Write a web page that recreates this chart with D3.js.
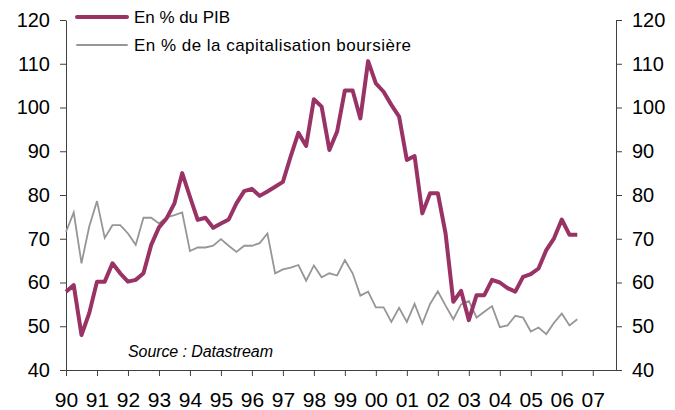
<!DOCTYPE html>
<html>
<head>
<meta charset="utf-8">
<script src="https://cdn.jsdelivr.net/npm/d3@7"></script>
<style>
  body { margin: 0; background: #fff; }
  svg { display: block; font-family: "Liberation Sans", Arial, sans-serif; }
</style>
</head>
<body>
<svg id="chart" width="675" height="410"></svg>
<script>
// quarterly series, starting 1990 Q1
var startYear = 1990;
var yearTicks = d3.range(1990, 2008);
var yTicks = [40, 50, 60, 70, 80, 90, 100, 110, 120];

// en % du PIB
var pib = [
    57.9, 59.4, 48.0, 53.0, 60.2, 60.2, 64.4, 62.1, 60.2, 60.6,
    62.1, 68.6, 72.6, 74.7, 78.1, 85.0, 79.6, 74.3, 74.8, 72.5,
    73.5, 74.4, 78.1, 80.9, 81.4, 79.8, 80.8, 81.9, 83.0, 88.8,
    94.2, 91.2, 101.9, 100.2, 90.3, 94.5, 103.9, 103.9, 97.5, 110.6,
    105.5, 103.6, 100.6, 97.9, 88.0, 88.9, 75.8, 80.4, 80.4, 71.2,
    55.6, 58.1, 51.4, 57.1, 57.1, 60.6, 60.0, 58.7, 57.9, 61.3,
    61.9, 63.2, 67.4, 70.1, 74.4, 70.9, 70.9
];

// en % de la capitalisation boursiere
var bourse = [
    71.6, 76.0, 64.4, 72.8, 78.6, 70.2, 73.1, 73.1, 71.2, 68.6,
    74.8, 74.8, 73.5, 74.9, 75.4, 76.0, 67.2, 68.0, 68.0, 68.4,
    69.9, 68.4, 67.0, 68.4, 68.4, 69.0, 71.2, 62.1, 63.0, 63.4,
    64.0, 60.4, 63.9, 61.2, 62.1, 61.6, 65.1, 62.1, 57.0, 57.9,
    54.3, 54.3, 51.0, 54.2, 51.0, 55.1, 50.6, 55.1, 58.0, 54.7,
    51.6, 55.0, 55.8, 52.0, 53.3, 54.6, 49.8, 50.2, 52.4, 52.0,
    48.8, 49.7, 48.2, 50.8, 52.9, 50.2, 51.6
];

var seriesNames = ["En % du PIB", "En % de la capitalisation boursière"];
var colors = ["#993366", "#969696"];

var svg = d3.select("#chart");
var plotLeft = 66, plotRight = 616, plotTop = 20, plotBottom = 370;

// axis spans 72 quarters (1990 Q1 .. 2007 Q4)
var x = d3.scaleLinear()
    .domain([startYear, startYear + 71 / 4])
    .range([plotLeft, plotRight]);
var y = d3.scaleLinear()
    .domain([40, 120])
    .range([plotBottom, plotTop]);

var axisColor = "#404040";

// left axis
var gl = svg.append("g")
    .attr("transform", "translate(" + plotLeft + ",0)")
    .call(d3.axisLeft(y).tickValues(yTicks).tickSize(6).tickSizeOuter(0).tickPadding(10));
// right axis
var gr = svg.append("g")
    .attr("transform", "translate(" + plotRight + ",0)")
    .call(d3.axisRight(y).tickValues(yTicks).tickSize(6).tickSizeOuter(0).tickPadding(10));
// bottom axis
var gb = svg.append("g")
    .attr("transform", "translate(0," + plotBottom + ")")
    .call(d3.axisBottom(x).tickValues(yearTicks).tickSize(6).tickSizeOuter(0)
        .tickFormat(function (d) { return String(d).slice(2); }));

[gl, gr, gb].forEach(function (g) {
    g.attr("font-family", null).attr("font-size", 20);
    g.selectAll("text").attr("fill", "#000");
    g.selectAll("line, path").attr("stroke", axisColor);
});
gb.attr("font-size", 21);
gb.selectAll("text").attr("y", 37).attr("dy", 0);

// series lines
var line = d3.line()
    .x(function (d, i) { return x(startYear + i / 4); })
    .y(function (d) { return y(d); });

svg.append("path")
    .datum(bourse)
    .attr("fill", "none")
    .attr("stroke", colors[1])
    .attr("stroke-width", 1.8)
    .attr("d", line);

svg.append("path")
    .datum(pib)
    .attr("fill", "none")
    .attr("stroke", colors[0])
    .attr("stroke-width", 4)
    .attr("stroke-linejoin", "round")
    .attr("d", line);

// legend
var legend = svg.append("g");
var legendRows = [
    {name: seriesNames[0], color: colors[0], width: 4, y: 17, len: 96},
    {name: seriesNames[1], color: colors[1], width: 1.8, y: 45, len: 277}
];
legendRows.forEach(function (r) {
    legend.append("line")
        .attr("x1", 77).attr("x2", 127)
        .attr("y1", r.y).attr("y2", r.y)
        .attr("stroke", r.color)
        .attr("stroke-width", r.width)
        .attr("stroke-linecap", "round");
    legend.append("text")
        .attr("x", 134)
        .attr("y", r.y + 5.5)
        .attr("font-size", 17)
        .attr("textLength", r.len)
        .attr("lengthAdjust", "spacing")
        .text(r.name);
});

// source note
svg.append("text")
    .attr("x", 128)
    .attr("y", 357)
    .attr("font-size", 16)
    .attr("font-style", "italic")
    .attr("textLength", 145)
    .attr("lengthAdjust", "spacing")
    .text("Source : Datastream");
</script>
</body>
</html>
